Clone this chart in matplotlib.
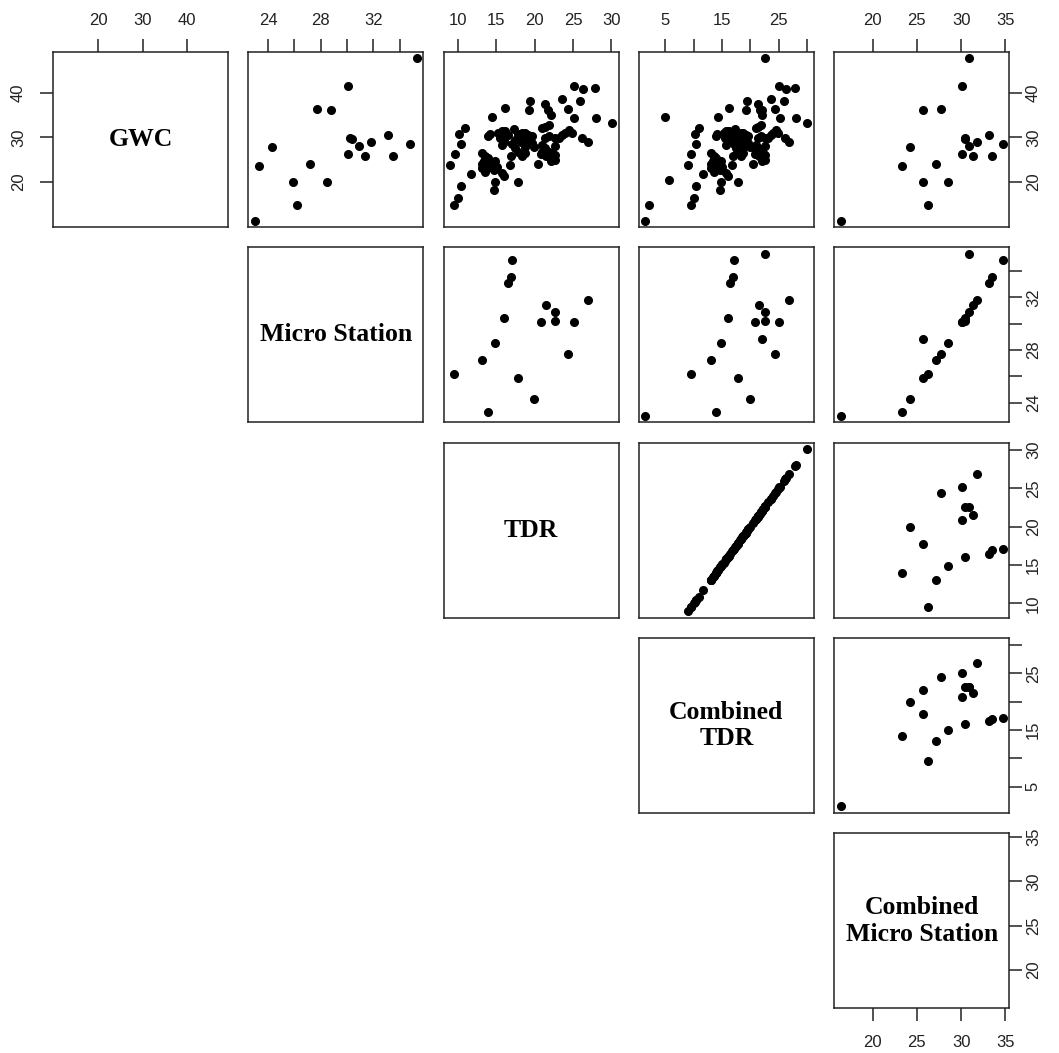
import numpy as np
import matplotlib.pyplot as plt

nan = np.nan

names = ["GWC", "Micro Station", "TDR", "Combined\nTDR", "Combined\nMicro Station"]

# sites with a micro station reading
ms_gwc = [47.7, 41.5, 36.4, 36.1, 29.8, 29.6, 28.1, 28.9, 30.4, 28.5,
          27.8, 26.2, 25.8, 25.8, 23.6, 23.9, 20.0, 20.0, 14.7, 11.3]
ms_ms = [35.3, 30.1, 27.7, 28.8, 30.2, 30.4, 30.9, 31.8, 33.1, 34.8,
         24.3, 30.1, 31.4, 33.5, 23.3, 27.2, 25.9, 28.5, 26.2, 23.0]
ms_tdr = [nan, 25.1, 24.4, nan, 22.6, 16.0, 22.6, 26.9, 16.5, 17.1,
          19.95, 20.9, 21.55, 16.9, 14.0, 13.1, 17.8, 14.9, 9.55, nan]
ms_ctdr = [22.6, 25.1, 24.4, 22.0, 22.6, 16.0, 22.6, 26.9, 16.5, 17.1,
           19.95, 20.9, 21.55, 16.9, 14.0, 13.1, 17.8, 14.9, 9.55, 1.5]
ms_cms = [30.9, 30.1, 27.7, 25.7, 30.4, 30.4, 30.85, 31.75, 33.1, 34.7,
          24.25, 30.1, 31.35, 33.5, 23.3, 27.2, 25.75, 28.55, 26.25, 16.4]

# sites with only a TDR reading
tdr_only = [26.3, 27.9, 23.6, 25.9, 19.4, 19.3, 21.3, 21.7, 22.1, 16.2,
            14.4, 25.2, 28.0, 30.1, 10.9, 10.2, 10.4, 9.6, 9.0, 11.7,
            10.4, 10.0,
            14.0, 14.2, 15.3, 15.8, 16.2, 17.3, 15.5, 16.0, 15.8, 17.5,
            17.9, 18.4, 18.8, 19.2, 19.7, 19.0, 18.2, 18.6, 19.2, 19.7,
            18.8, 17.5, 17.9, 18.4, 18.8, 16.8, 21.0, 21.4, 21.9, 21.4,
            21.9, 23.2, 21.0, 21.4, 21.9, 22.3, 22.7, 22.3, 22.7, 22.1,
            21.0, 23.6, 24.0, 24.5, 24.9, 26.2, 20.5,
            13.1, 13.6, 14.0, 13.4, 14.2, 13.1, 13.6, 14.4, 14.9, 14.7,
            15.1, 15.8, 16.0, 14.7]
tdr_gwc = [40.8, 41.1, 38.5, 38.1, 38.2, 36.1, 37.5, 36.1, 35.0, 36.5,
           34.6, 34.3, 34.3, 33.1, 32.0, 30.8, 28.5, 26.2, 23.7, 21.7,
           19.1, 16.4,
           30.2, 30.7, 30.9, 31.3, 31.4, 31.8, 29.8, 29.0, 28.3, 29.4,
           30.7, 30.9, 31.0, 30.5, 30.2, 29.8, 29.0, 29.4, 29.0, 28.7,
           27.9, 27.5, 26.8, 25.7, 26.4, 23.8, 32.0, 32.4, 32.8, 29.8,
           30.2, 29.8, 28.3, 27.5, 26.8, 26.4, 26.0, 25.3, 24.9, 24.6,
           26.8, 30.5, 30.9, 31.6, 30.9, 29.8, 24.0,
           26.4, 25.7, 25.3, 24.6, 23.4, 23.1, 22.3, 24.2, 24.6, 22.7,
           23.4, 21.9, 21.2, 18.2]

# sites with only a combined TDR value
ctdr_only = [2.2, 5.0, 5.6]
ctdr_gwc = [14.7, 34.6, 20.5]

n_t = len(tdr_only)
n_c = len(ctdr_only)
gwc = np.r_[ms_gwc, tdr_gwc, ctdr_gwc]
ms = np.r_[ms_ms, [nan] * (n_t + n_c)]
tdr = np.r_[ms_tdr, tdr_only, [nan] * n_c]
ctdr = np.r_[ms_ctdr, tdr_only, ctdr_only]
cms = np.r_[ms_cms, [nan] * (n_t + n_c)]
cols = [gwc, ms, tdr, ctdr, cms]

ticks = [[20, 30, 40],
         [24, 26, 28, 30, 32, 34],
         [10, 15, 20, 25, 30],
         [5, 10, 15, 20, 25, 30],
         [20, 25, 30, 35]]
tick_labels = [["20", "30", "40"],
               ["24", "", "28", "", "32", ""],
               ["10", "15", "20", "25", "30"],
               ["5", "", "15", "", "25", ""],
               ["20", "25", "30", "35"]]


def lims(v):
    v = v[~np.isnan(v)]
    r = v.max() - v.min()
    return v.min() - 0.04 * r, v.max() + 0.04 * r


W, H = 1059, 1053
fig = plt.figure(figsize=(W / 100, H / 100), dpi=100)
fig.patch.set_facecolor("white")

size = 175
step = 195.3
tick_font = dict(family="Liberation Sans", size=12, color="#222222")

for i in range(5):
    for j in range(i, 5):
        x0 = 53 + j * step
        y0 = 52 + i * step
        ax = fig.add_axes([x0 / W, 1 - (y0 + size) / H, size / W, size / H])
        ax.set_xlim(lims(cols[j]))
        ax.set_ylim(lims(cols[i]))
        for s in ax.spines.values():
            s.set_linewidth(1.1)
            s.set_color("#222222")

        if i == j:
            ax.text(0.5, 0.5, names[i], transform=ax.transAxes,
                    ha="center", va="center", family="Liberation Serif",
                    weight="bold", size=18.5, linespacing=1.2)
        else:
            ax.plot(cols[j], cols[i], "o", color="black", ms=5.5, ls="none")

        ax.set_xticks(ticks[j])
        ax.set_yticks(ticks[i])
        top = i == 0
        bottom = i == 4
        left = j == 0
        right = j == 4
        ax.tick_params(axis="both", direction="out", length=9.5, width=1.1,
                       color="#222222")
        ax.tick_params(axis="x", top=top, labeltop=top, bottom=bottom,
                       labelbottom=bottom, pad=8 if top else 10)
        ax.tick_params(axis="y", left=left, labelleft=left, right=right,
                       labelright=right, pad=10 if left else 2.5)
        ax.set_xticklabels(tick_labels[j], **tick_font)
        ax.set_yticklabels(tick_labels[i], rotation=90, va="center", **tick_font)

fig.savefig("out.png", dpi=100)
